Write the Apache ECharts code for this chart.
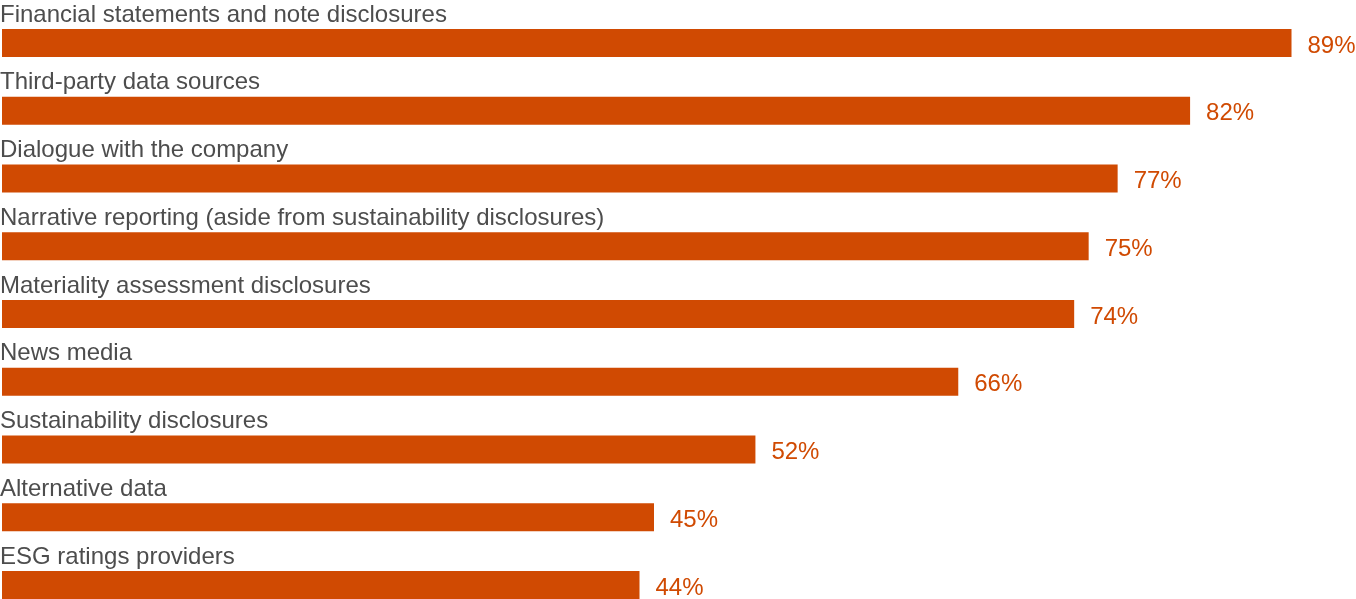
<!DOCTYPE html>
<html>
<head>
<meta charset="utf-8">
<script src="https://cdn.jsdelivr.net/npm/echarts@6/dist/echarts.min.js"></script>
<style>
html,body{margin:0;padding:0;background:#fff;}
#chart{width:1356px;height:599px;}
</style>
</head>
<body>
<div id="chart"></div>
<script>
const categories = [
  "Financial statements and note disclosures",
  "Third-party data sources",
  "Dialogue with the company",
  "Narrative reporting (aside from sustainability disclosures)",
  "Materiality assessment disclosures",
  "News media",
  "Sustainability disclosures",
  "Alternative data",
  "ESG ratings providers"
];
const values = [89, 82, 77, 75, 74, 66, 52, 45, 44];

const FONT = '"Liberation Sans", Arial, Helvetica, sans-serif';
const chart = echarts.init(document.getElementById('chart'), null, {renderer: 'canvas'});
chart.setOption({
  animation: false,
  backgroundColor: '#ffffff',
  grid: {left: 2, top: 9, width: 1304, height: 610, containLabel: false, outerBoundsMode: 'none'},
  xAxis: {type: 'value', min: 0, max: 90, show: false},
  yAxis: {
    type: 'category', data: categories, inverse: true,
    axisLine: {show: false}, axisTick: {show: false}, axisLabel: {show: false}, splitLine: {show: false}
  },
  series: [
    {
      type: 'bar', data: values, barWidth: 28,
      itemStyle: {color: '#d04a02'},
      label: {
        show: true, position: 'right', distance: 16, offset: [0, 3],
        formatter: p => p.value + '%',
        color: '#d04a02', fontSize: 24, fontFamily: FONT
      },
      z: 2
    },
    {
      type: 'bar', data: values, barWidth: 28, barGap: '-100%',
      itemStyle: {color: 'rgba(0,0,0,0)'},
      label: {
        show: true, position: [-2, -2], align: 'left', verticalAlign: 'bottom',
        formatter: p => p.name,
        color: '#4d4d4d', fontSize: 24, fontFamily: FONT
      },
      silent: true, z: 3
    }
  ]
});
</script>
</body>
</html>
